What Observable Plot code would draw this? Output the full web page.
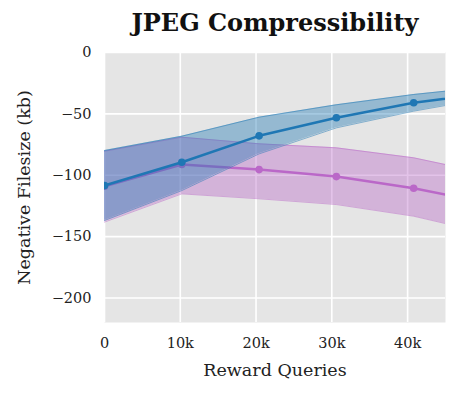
<!DOCTYPE html>
<html>
<head>
<meta charset="utf-8">
<script src="https://cdn.jsdelivr.net/npm/d3@7"></script>
<script src="https://cdn.jsdelivr.net/npm/@observablehq/plot@0.6"></script>
<style>
  html, body { margin: 0; padding: 0; background: #fff; }
  #chart svg { display: block; }
</style>
</head>
<body>
<div id="chart"></div>
<script>
// Reward queries (x) — last point lies beyond the visible range and is clipped
const queries = [0, 10200, 20400, 30600, 40800, 51000];

// Series 1 (blue)
const blueMean  = [-108.4, -89.4, -67.9, -53.2, -41.0, -32.6];
const blueUpper = [-79.9, -68.2, -52.7, -42.6, -34.2, -27.6];
const blueLower = [-136.9, -112.5, -82.6, -61.4, -47.8, -36.6];

// Series 2 (purple)
const purpleMean  = [-109.0, -91.3, -95.4, -101.1, -110.6, -123.0];
const purpleUpper = [-80.5, -69.0, -74.4, -77.7, -85.8, -99.2];
const purpleLower = [-138.2, -115.2, -119.2, -123.9, -133.4, -148.0];

const xTicks = [0, 10000, 20000, 30000, 40000];
const xTickLabels = ["0", "10k", "20k", "30k", "40k"];
const yTicks = [0, -50, -100, -150, -200];

const titleText = "JPEG Compressibility";
const xLabel = "Reward Queries";
const yLabel = "Negative Filesize (kb)";

const BLUE = "#1f77b4";
const PURPLE = "#ba68c8";

const blue = queries.map((q, i) => ({q, m: blueMean[i], lo: blueLower[i], hi: blueUpper[i]}));
const purple = queries.map((q, i) => ({q, m: purpleMean[i], lo: purpleLower[i], hi: purpleUpper[i]}));

const FONT = "DejaVu Serif";
const xFmt = d => xTickLabels[xTicks.indexOf(d)];
const yFmt = d => d === 0 ? "0" : "\u2212" + Math.abs(d);

const chart = Plot.plot({
  width: 457,
  height: 393,
  marginLeft: 104,
  marginRight: 12,
  marginTop: 52,
  marginBottom: 71,
  style: {fontFamily: FONT, fontSize: "14px", color: "#222", background: "#fff"},
  x: {domain: [0, 45000]},
  y: {domain: [-220, 0]},
  marks: [
    Plot.frame({fill: "#e5e5e5", stroke: null}),
    Plot.gridX(xTicks, {stroke: "#fff", strokeOpacity: 1, strokeWidth: 1.6}),
    Plot.gridY(yTicks, {stroke: "#fff", strokeOpacity: 1, strokeWidth: 1.6}),
    Plot.axisX(xTicks, {tickSize: 0, tickPadding: 15, fontSize: 14.5, label: null, tickFormat: xFmt}),
    Plot.axisY(yTicks, {tickSize: 0, tickPadding: 13, fontSize: 14.5, label: null, tickFormat: yFmt}),
    // purple series
    Plot.areaY(purple, {x: "q", y1: "lo", y2: "hi", fill: PURPLE, fillOpacity: 0.4, clip: true}),
    Plot.lineY(purple, {x: "q", y: "hi", stroke: PURPLE, strokeOpacity: 0.5, strokeWidth: 1, clip: true}),
    Plot.lineY(purple, {x: "q", y: "lo", stroke: PURPLE, strokeOpacity: 0.5, strokeWidth: 1, clip: true}),
    Plot.lineY(purple, {x: "q", y: "m", stroke: PURPLE, strokeWidth: 2.5, clip: true}),
    Plot.dot(purple, {x: "q", y: "m", fill: PURPLE, r: 3.8, clip: true}),
    // blue series
    Plot.areaY(blue, {x: "q", y1: "lo", y2: "hi", fill: BLUE, fillOpacity: 0.4, clip: true}),
    Plot.lineY(blue, {x: "q", y: "hi", stroke: BLUE, strokeOpacity: 0.5, strokeWidth: 1, clip: true}),
    Plot.lineY(blue, {x: "q", y: "lo", stroke: BLUE, strokeOpacity: 0.5, strokeWidth: 1, clip: true}),
    Plot.lineY(blue, {x: "q", y: "m", stroke: BLUE, strokeWidth: 2.5, clip: true}),
    Plot.dot(blue, {x: "q", y: "m", fill: BLUE, r: 3.8, clip: true}),
    // labels and title
    Plot.text([titleText], {frameAnchor: "top", dy: -29, text: d => d, fontSize: 24, fontWeight: "bold", fill: "#111", lineAnchor: "middle", textAnchor: "middle"}),
    Plot.text([xLabel], {frameAnchor: "bottom", dy: 48, text: d => d, fontSize: 17.5, fill: "#222", lineAnchor: "middle", textAnchor: "middle"}),
    Plot.text([yLabel], {frameAnchor: "left", dx: -80, text: d => d, fontSize: 17.5, fill: "#222", rotate: -90, lineAnchor: "middle", textAnchor: "middle"})
  ]
});
document.getElementById("chart").appendChild(chart);
</script>
</body>
</html>
